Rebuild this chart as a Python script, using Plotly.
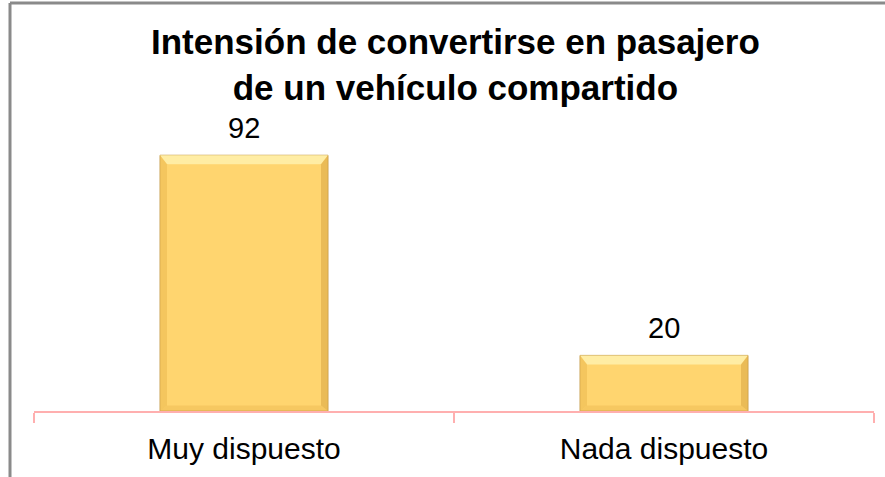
import plotly.graph_objects as go

categories = ["Muy dispuesto", "Nada dispuesto"]
values = [92, 20]
title_text = "Intensión de convertirse en pasajero<br>de un vehículo compartido"

W, H = 885, 477
ML, MR, MT, MB = 34, 11, 133, 66
pw = W - ML - MR
ph = H - MT - MB
YMAX = 100
BAR_W = 0.4

fig = go.Figure()
fig.add_trace(go.Bar(
    x=categories, y=values,
    marker=dict(color="#FFD56F", line=dict(color="#C9A050", width=1)),
    width=BAR_W,
    hoverinfo="skip",
))

# bevel shading derived from each bar's value
dx = 7 / (pw / len(categories))
dy = 9 / (ph / YMAX)
for i, v in enumerate(values):
    x0, x1 = i - BAR_W / 2, i + BAR_W / 2
    def poly(pts, color):
        path = "M " + " L ".join(f"{a},{b}" for a, b in pts) + " Z"
        fig.add_shape(type="path", xref="x", yref="y", path=path,
                      fillcolor=color, line=dict(width=0), layer="above")
    poly([(x0, v), (x1, v), (x1 - dx, v - dy), (x0 + dx, v - dy)], "rgba(255,240,170,0.9)")
    poly([(x0, v), (x0 + dx, v - dy), (x0 + dx, dy * 0.6), (x0, 0)], "rgba(235,185,80,0.55)")
    poly([(x1, v), (x1 - dx, v - dy), (x1 - dx, dy * 0.6), (x1, 0)], "rgba(220,170,70,0.6)")
    poly([(x0, 0), (x1, 0), (x1 - dx, dy * 0.6), (x0 + dx, dy * 0.6)], "rgba(235,185,80,0.45)")

for c, v in zip(categories, values):
    fig.add_annotation(x=c, y=v, text=str(v), showarrow=False,
                       yanchor="bottom", yshift=9,
                       font=dict(family="Liberation Sans, Arial", size=29, color="#000000"))

def px_x(p):
    return (p - ML) / pw

def px_y(p):
    return (H - MB - p) / ph

fig.add_annotation(xref="paper", yref="paper", x=px_x(455), y=px_y(20),
                   xanchor="center", yanchor="top", showarrow=False,
                   text=title_text,
                   font=dict(family="Liberation Sans, Arial", size=35, color="#000000", weight="bold"))

border = dict(color="#8A8A8A", width=3)
fig.add_shape(type="line", xref="paper", yref="paper",
              x0=px_x(10), x1=px_x(10), y0=px_y(3), y1=px_y(H), line=border)
fig.add_shape(type="line", xref="paper", yref="paper",
              x0=px_x(10), x1=px_x(W), y0=px_y(3), y1=px_y(3), line=border)

fig.update_layout(
    width=W, height=H,
    margin=dict(l=ML, r=MR, t=MT, b=MB, autoexpand=False),
    paper_bgcolor="white", plot_bgcolor="white",
    showlegend=False,
    xaxis=dict(showline=True, linecolor="#FFAFAF", linewidth=2,
               ticks="outside", ticklen=10, tickcolor="#FFAFAF", tickwidth=2,
               tickson="boundaries", showgrid=False, zeroline=False,
               ticklabelstandoff=10,
               tickfont=dict(family="Liberation Sans, Arial", size=30, color="#000000")),
    yaxis=dict(visible=False, range=[0, YMAX], showgrid=False, zeroline=False),
)

fig.write_html("out.html", config={"displayModeBar": False},
               post_script="document.body.style.margin='0';document.body.style.overflow='hidden';")
